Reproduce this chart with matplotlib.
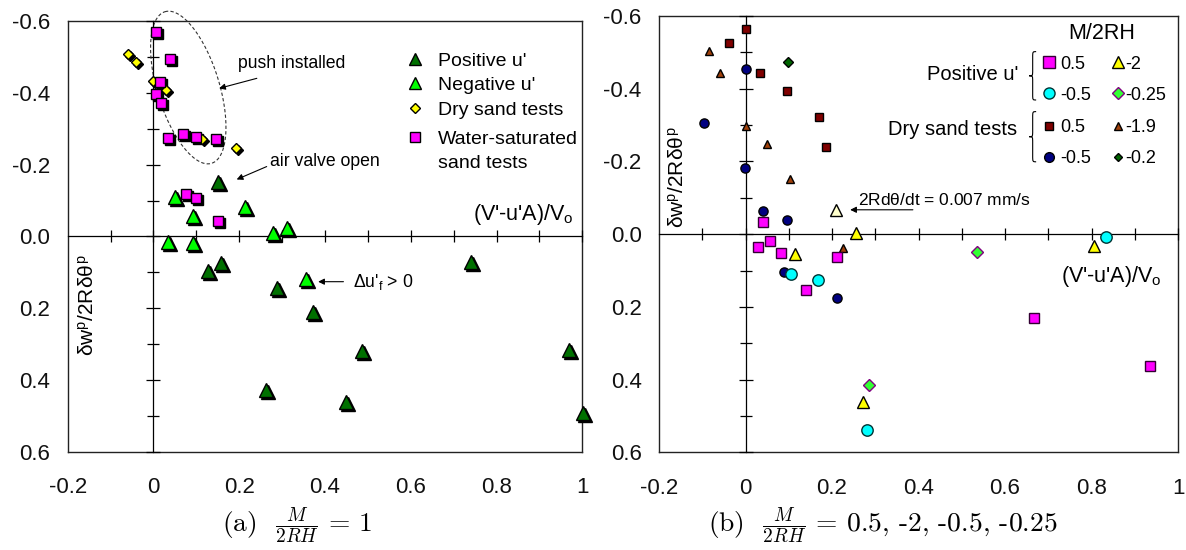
import numpy as np
import matplotlib
matplotlib.use("Agg")
import matplotlib.pyplot as plt
import matplotlib.transforms as mtransforms
from matplotlib.path import Path
from matplotlib.patches import PathPatch

plt.rcParams['font.family'] = ['Liberation Sans', 'DejaVu Sans']
plt.rcParams['mathtext.fontset'] = 'custom'
plt.rcParams['mathtext.rm'] = 'Liberation Sans'
plt.rcParams['mathtext.it'] = 'Liberation Sans'

# ---------------- data: panel (a) ----------------
pos_u_x = [0.150, 0.128, 0.157, 0.287, 0.262, 0.740, 0.373, 0.486, 0.449, 0.970, 1.002]
pos_u_y = [-0.153, 0.095, 0.073, 0.144, 0.428, 0.072, 0.210, 0.318, 0.462, 0.316, 0.493]
neg_u_x = [0.050, 0.093, 0.213, 0.279, 0.311, 0.033, 0.093, 0.356]
neg_u_y = [-0.111, -0.057, -0.083, -0.009, -0.025, 0.014, 0.019, 0.119]
dry_a_x = [-0.059, -0.041, 0.000, 0.029, 0.113, 0.192]
dry_a_y = [-0.508, -0.487, -0.434, -0.408, -0.273, -0.246]
wet_a_x = [0.006, 0.038, 0.015, 0.006, 0.018, 0.035, 0.069, 0.099, 0.146, 0.076, 0.099, 0.150]
wet_a_y = [-0.571, -0.494, -0.432, -0.397, -0.371, -0.274, -0.285, -0.278, -0.271, -0.118, -0.106, -0.044]

# ---------------- data: panel (b) ----------------
# positive u'
p05_x = [0.040, 0.030, 0.057, 0.082, 0.140, 0.212, 0.668, 0.935]
p05_y = [-0.034, 0.034, 0.018, 0.053, 0.153, 0.064, 0.231, 0.364]
pm2_x = [0.255, 0.114, 0.271, 0.806]
pm2_y = [-0.004, 0.054, 0.461, 0.032]
pm2_slow_x = [0.209]
pm2_slow_y = [-0.067]
pm05_x = [0.105, 0.167, 0.280, 0.833]
pm05_y = [0.110, 0.126, 0.539, 0.007]
pm025_x = [0.286, 0.535]
pm025_y = [0.415, 0.048]
# dry sand tests
d05_x = [0.000, -0.037, 0.034, 0.097, 0.169, 0.186]
d05_y = [-0.564, -0.525, -0.443, -0.395, -0.323, -0.239]
dm19_x = [-0.084, -0.059, 0.000, 0.049, 0.103, 0.226]
dm19_y = [-0.504, -0.444, -0.298, -0.248, -0.152, 0.039]
dm05_x = [0.000, -0.096, -0.001, 0.040, 0.095, 0.090, 0.212]
dm05_y = [-0.454, -0.307, -0.181, -0.065, -0.039, 0.103, 0.176]
dm02_x = [0.098]
dm02_y = [-0.474]

x_ticks = [-0.2, 0.0, 0.2, 0.4, 0.6, 0.8, 1.0]
x_ticklabels = ["-0.2", "0", "0.2", "0.4", "0.6", "0.8", "1"]
y_ticks = [-0.6, -0.4, -0.2, 0.0, 0.2, 0.4, 0.6]
y_ticklabels = ["-0.6", "-0.4", "-0.2", "0.0", "0.2", "0.4", "0.6"]

legend_a_labels = ["Positive u'", "Negative u'", "Dry sand tests", "Water-saturated"]
legend_a_extra = "sand tests"
legend_b_col1 = ["0.5", "-0.5", "0.5", "-0.5"]
legend_b_col2 = ["-2", "-0.25", "-1.9", "-0.2"]

W, H = 1186, 550
fig = plt.figure(figsize=(W / 100, H / 100), dpi=100)

A_BOX = (67.7, 21.3, 582.3, 451.7)
B_BOX = (659, 16, 1178, 452.3)


def px_rect(box):
    l, t, r, b = box
    return [l / W, 1 - b / H, (r - l) / W, (b - t) / H]


def to_axes(box, px, py):
    l, t, r, b = box
    return (px - l) / (r - l), (b - py) / (b - t)


def make_axes(box):
    rect = px_rect(box)
    ax_o = fig.add_axes(rect)
    ax_o.set_xlim(-0.2, 1.0)
    ax_o.set_ylim(0.6, -0.6)
    ax_o.set_xticks(x_ticks, x_ticklabels)
    ax_o.set_yticks(y_ticks, y_ticklabels)
    ax_o.tick_params(length=0, labelsize=16, colors='#111111')
    ax_o.tick_params(axis='x', pad=18.5)
    ax_o.tick_params(axis='y', pad=12.5)
    for s in ax_o.spines.values():
        s.set_linewidth(1.0)
        s.set_color('#222222')
    ax = fig.add_axes(rect, zorder=ax_o.get_zorder() + 1)
    ax.patch.set_visible(False)
    ax.set_xlim(-0.2, 1.0)
    ax.set_ylim(0.6, -0.6)
    ax.spines['top'].set_visible(False)
    ax.spines['right'].set_visible(False)
    ax.spines['left'].set_position(('data', 0))
    ax.spines['bottom'].set_position(('data', 0))
    for s in ('left', 'bottom'):
        ax.spines[s].set_linewidth(0.9)
        ax.spines[s].set_color('k')
    ax.set_xticks(np.arange(-0.1, 1.01, 0.1))
    ax.set_yticks(np.arange(-0.6, 0.61, 0.2))
    ax.set_yticks(np.arange(-0.5, 0.6, 0.2), minor=True)
    ax.tick_params(which='both', direction='inout', labelleft=False, labelbottom=False,
                   width=0.9, color='k')
    ax.tick_params(axis='x', length=9)
    ax.tick_params(axis='y', which='major', length=10)
    ax.tick_params(axis='y', which='minor', length=8)
    return ax_o, ax


ax_a_o, ax_a = make_axes(A_BOX)
ax_b_o, ax_b = make_axes(B_BOX)

# ---------------- panel (a) ----------------
shadow = mtransforms.offset_copy(ax_a.transData, fig=fig, x=2, y=-2, units='dots')


def shadowed(ax, x, y, marker, ms, face):
    ax.plot(x, y, linestyle='none', marker=marker, ms=ms, mfc='k', mec='k', mew=1,
            transform=shadow, zorder=3, clip_on=False)
    ax.plot(x, y, linestyle='none', marker=marker, ms=ms, mfc=face, mec='k', mew=1,
            zorder=3.1, clip_on=False)


shadowed(ax_a, pos_u_x, pos_u_y, '^', 10, '#007000')
shadowed(ax_a, neg_u_x, neg_u_y, '^', 10, '#00FF00')
shadowed(ax_a, dry_a_x, dry_a_y, 'D', 5.6, '#FFFF00')
shadowed(ax_a, wet_a_x, wet_a_y, 's', 7.4, '#FF00FF')

# legend (a)
leg_a_style = [('^', 8, '#007000'), ('^', 8, '#00FF00'), ('D', 5, '#FFFF00'), ('s', 7, '#FF00FF')]
leg_a_rows = [59.3, 83.3, 108.3, 136.7]
for (mk, ms, fc), lab, ry in zip(leg_a_style, legend_a_labels, leg_a_rows):
    mx, my = to_axes(A_BOX, 415, ry)
    ax_a.plot([mx], [my], transform=ax_a.transAxes, ls='none', marker=mk, ms=ms,
              mfc=fc, mec='k', mew=1, clip_on=False, zorder=4)
    tx, ty = to_axes(A_BOX, 438, ry + 7)
    ax_a.text(tx, ty, lab, transform=ax_a.transAxes, fontsize=14, ha='left', va='baseline')
tx, ty = to_axes(A_BOX, 438, 161.5 + 7)
ax_a.text(tx, ty, legend_a_extra, transform=ax_a.transAxes, fontsize=14, ha='left', va='baseline')

# dashed ellipse "push installed"
cx, cy = 188.3, 87.5
a_px, b_px = 79.3, 31.0
u = np.array([-0.294, -0.956])
v = np.array([0.956, -0.294])
t = np.linspace(0, 2 * np.pi, 200)
ex_px = cx + a_px * np.cos(t) * u[0] + b_px * np.sin(t) * v[0]
ey_px = cy + a_px * np.cos(t) * u[1] + b_px * np.sin(t) * v[1]
ax_a.plot((ex_px - 153.5) / 428.8, (ey_px - 236.5) / 358.7, ls=(0, (3, 2)), lw=0.8,
          color='#333333', zorder=2, clip_on=False)

arrow = dict(arrowstyle='-|>', lw=0.8, color='k', mutation_scale=9, shrinkA=0, shrinkB=0)
ax_a.annotate('', xy=(0.153, -0.413), xytext=(0.241, -0.441), arrowprops=arrow)
ax_a.text(0.197, -0.483, 'push installed', fontsize=12.7, va='center', ha='left')
ax_a.annotate('', xy=(0.194, -0.159), xytext=(0.264, -0.195), arrowprops=arrow)
ax_a.text(0.272, -0.209, 'air valve open', fontsize=12.7, va='center', ha='left')
ax_a.annotate('', xy=(0.384, 0.126), xytext=(0.443, 0.126), arrowprops=arrow)
ax_a.text(0.465, 0.126, r"$\Delta$u'$_\mathrm{f}$ > 0", fontsize=12.7, va='center', ha='left')
ax_a.text(0.979, -0.046, r"(V'-u'A)/V$_\mathrm{o}$", fontsize=15.5, va='baseline', ha='right')
ax_a.text(-0.153, 0.191, r"$\delta$w$^\mathrm{p}$/2R$\delta\theta^\mathrm{p}$", fontsize=15,
          rotation=90, va='center', ha='center')

# ---------------- panel (b) ----------------
def pl(ax, x, y, marker, ms, face, edge='k', mew=1.0):
    ax.plot(x, y, linestyle='none', marker=marker, ms=ms, mfc=face, mec=edge, mew=mew,
            zorder=3, clip_on=False)


pl(ax_b, d05_x, d05_y, 's', 5.4, '#800000')
pl(ax_b, dm19_x, dm19_y, '^', 5.6, '#A0400A')
pl(ax_b, dm05_x, dm05_y, 'o', 6.6, '#000080')
pl(ax_b, dm02_x, dm02_y, 'D', 4.6, '#006400')
pl(ax_b, p05_x, p05_y, 's', 7.7, '#FF00FF', '#330033')
pl(ax_b, pm05_x, pm05_y, 'o', 8.2, '#00FFFF', '#003333')
pl(ax_b, pm2_x, pm2_y, '^', 9.2, '#FFFF00')
pl(ax_b, pm2_slow_x, pm2_slow_y, '^', 9.2, '#FFFFCC')
pl(ax_b, pm025_x, pm025_y, 'D', 5.8, '#33FF33', '#800080')

# legend (b): two columns, four rows
leg_b_rows = [62.3, 93.3, 125.7, 156.7]
col1_style = [('s', 8, '#FF00FF', '#330033'), ('o', 8, '#00FFFF', '#003333'),
              ('s', 6, '#800000', 'k'), ('o', 7, '#000080', 'k')]
col2_style = [('^', 9, '#FFFF00', 'k'), ('D', 5.8, '#33FF33', '#800080'),
              ('^', 6, '#A0400A', 'k'), ('D', 4.2, '#006400', 'k')]
for styles, labels, mxp, txp in ((col1_style, legend_b_col1, 1049.3, 1060),
                                  (col2_style, legend_b_col2, 1118.3, 1125)):
    for (mk, ms, fc, ec), lab, ry in zip(styles, labels, leg_b_rows):
        mx, my = to_axes(B_BOX, mxp, ry)
        ax_b.plot([mx], [my], transform=ax_b.transAxes, ls='none', marker=mk, ms=ms,
                  mfc=fc, mec=ec, mew=1, clip_on=False, zorder=4)
        tx, ty = to_axes(B_BOX, txp, ry + 6.5)
        ax_b.text(tx, ty, lab, transform=ax_b.transAxes, fontsize=13, ha='left',
                  va='baseline')

ax_b.text(0.824, -0.553, 'M/2RH', fontsize=15.5, ha='center', va='center')
ax_b.text(0.631, -0.438, "Positive u'", fontsize=14.5, ha='right', va='center')
ax_b.text(0.627, -0.289, 'Dry sand tests', fontsize=14.5, ha='right', va='center')


def brace(ax, xr, xtip, yt, yb):
    xm = 0.5 * (xr + xtip)
    ym = 0.5 * (yt + yb)
    h = 0.12 * (yb - yt)
    verts = [(xr, yt), (xm, yt), (xm, yt), (xm, yt + h),
             (xm, ym - h),
             (xm, ym), (xm, ym), (xtip, ym),
             (xm, ym), (xm, ym), (xm, ym + h),
             (xm, yb - h),
             (xm, yb), (xm, yb), (xr, yb)]
    codes = [Path.MOVETO, Path.CURVE4, Path.CURVE4, Path.CURVE4,
             Path.LINETO,
             Path.CURVE4, Path.CURVE4, Path.CURVE4,
             Path.CURVE4, Path.CURVE4, Path.CURVE4,
             Path.LINETO,
             Path.CURVE4, Path.CURVE4, Path.CURVE4]
    ax.add_patch(PathPatch(Path(verts, codes), fc='none', ec='k', lw=0.8, clip_on=False))


brace(ax_b, 0.672, 0.656, -0.502, -0.369)
brace(ax_b, 0.672, 0.656, -0.337, -0.199)

ax_b.annotate('', xy=(0.242, -0.067), xytext=(0.387, -0.067), arrowprops=arrow)
ax_b.text(0.260, -0.094, r'2Rd$\theta$/dt = 0.007 mm/s', fontsize=12.5, ha='left', va='center')
ax_b.text(0.962, 0.131, r"(V'-u'A)/V$_\mathrm{o}$", fontsize=15.5, va='baseline', ha='right')
ax_b.text(-0.156, -0.157, r"$\delta$w$^\mathrm{p}$/2R$\delta\theta^\mathrm{p}$", fontsize=15,
          rotation=90, va='center', ha='center')

# ---------------- captions ----------------
fig.text(297 / W, 1 - 525 / H, r"(a)  $\frac{M}{2RH}$ = 1", fontsize=19.8,
         family='cmr10', math_fontfamily='cm', ha='center', va='center')
fig.text(883 / W, 1 - 525 / H, r"(b)  $\frac{M}{2RH}$ = 0.5, -2, -0.5, -0.25", fontsize=19.8,
         family='cmr10', math_fontfamily='cm', ha='center', va='center')

fig.savefig('out.png', dpi=100)
